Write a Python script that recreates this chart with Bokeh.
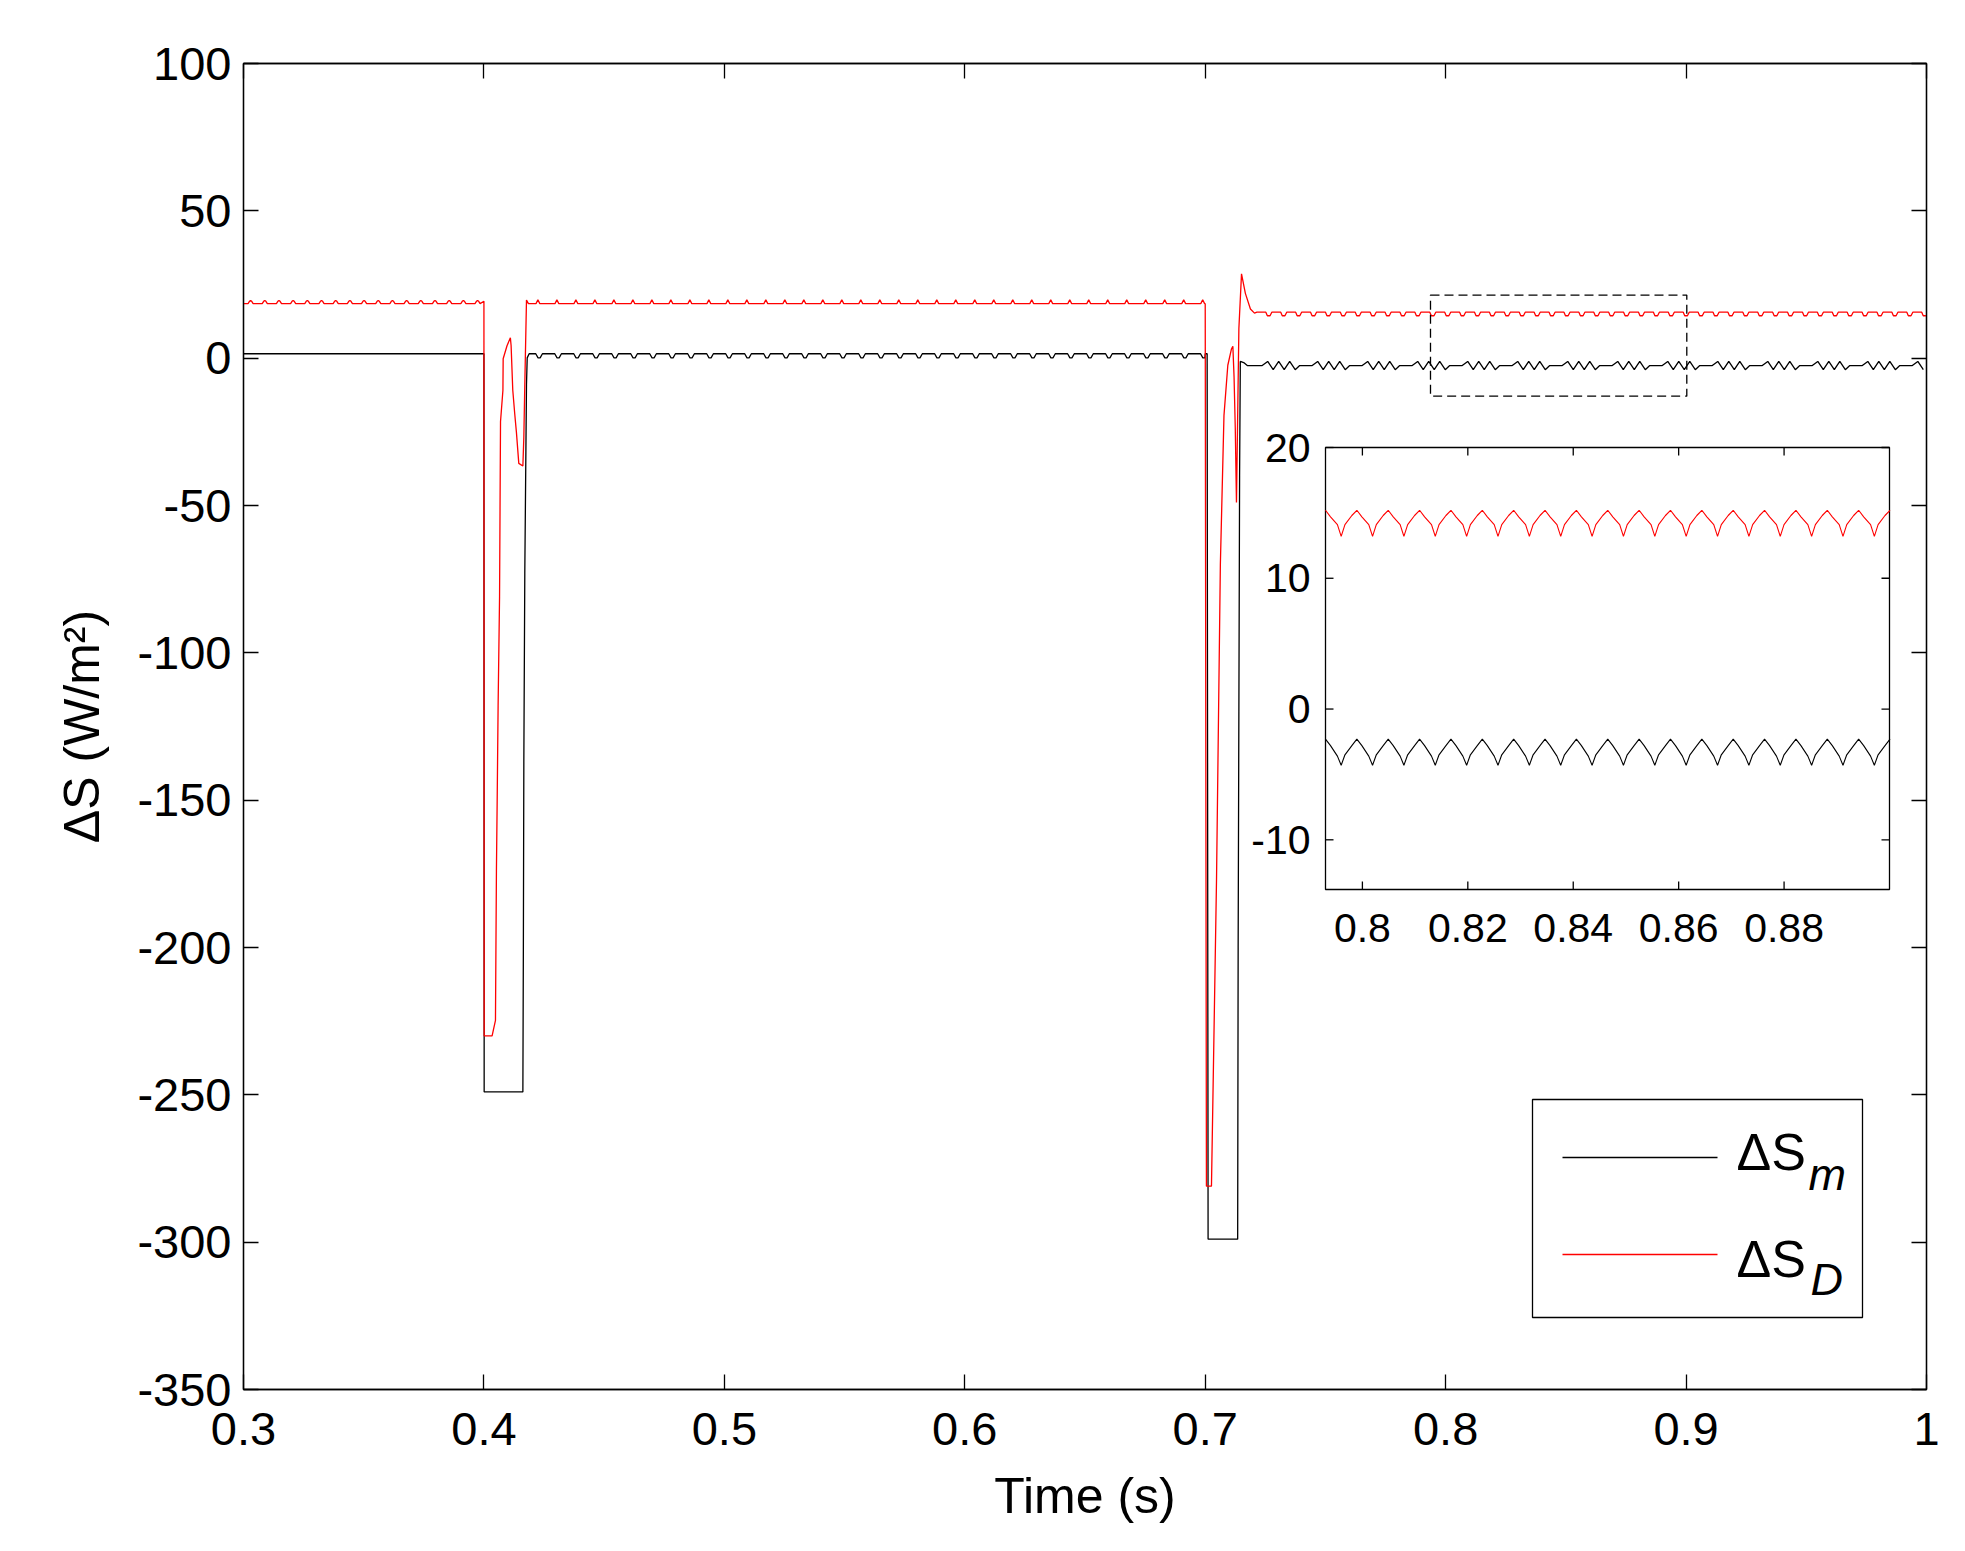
from bokeh.plotting import figure
from bokeh.models import (Range1d, LinearAxis, FixedTicker, CustomJSTickFormatter, Label)
from bokeh.core.properties import value
from bokeh.embed import file_html
from bokeh.resources import INLINE

# ---------------------------------------------------------------- data
x_ticks = [0.3, 0.4, 0.5, 0.6, 0.7, 0.8, 0.9, 1.0]
y_ticks = [100, 50, 0, -50, -100, -150, -200, -250, -300, -350]
x_limits = [0.3, 1.0]
y_limits = [-350, 100]

inset_x_ticks = [0.8, 0.82, 0.84, 0.86, 0.88]
inset_x_labels = ["0.8", "0.82", "0.84", "0.86", "0.88"]
inset_y_ticks = [20, 10, 0, -10]
inset_y_labels = ["20", "10", "0", "-10"]
inset_x_limits = [0.793, 0.9]
inset_y_limits = [-13.8, 20]

zoom_box_x = [0.7937, 0.9003]
zoom_box_y = [-12.9, 21.4]

# steady-state ripple as seen in the main view (one cycle each)
red_pre_period = 0.0059
red_pre_phase = [0.0, 0.32, 0.42, 0.50, 0.58, 0.68]
red_pre_vals = [18.5, 18.5, 19.3, 19.6, 19.3, 18.5]
black_pre_phase = [0.0]
black_pre_vals = [1.5]

mid_period = 0.0079
red_mid_phase = [0.0, 0.40, 0.50, 0.60]
red_mid_vals = [18.5, 18.5, 19.8, 18.5]
black_mid_phase = [0.0, 0.35, 0.47, 0.58, 0.70]
black_mid_vals = [1.5, 1.5, 0.1, 0.1, 1.5]

red_post_period = 0.0062
red_post_phase = [0.0, 0.60, 0.70, 0.88]
red_post_vals = [15.6, 15.6, 14.4, 14.4]
black_post_period = 0.0208
black_post_phase = [0.0, 0.25, 0.36, 0.47, 0.58, 0.69, 0.80, 0.91]
black_post_vals = [-2.5, -2.5, -1.1, -3.9, -1.1, -3.9, -1.1, -3.9]

# transients (sag events)
red_dip1_t = [0.4000, 0.4001, 0.4034, 0.4048, 0.4052, 0.4055, 0.4059, 0.4065, 0.4069,
              0.4079, 0.4080, 0.4096, 0.4110, 0.4113, 0.4120, 0.4128, 0.4135, 0.4145,
              0.4162, 0.4166, 0.4170, 0.4177]
red_dip1_v = [19.3, -230, -230, -224.7, -174, -151, -118, -81, -21.5,
              -10.9, -0.2, 4.2, 6.9, 4.3, -10.9, -18.8, -25, -35.7,
              -36.6, -26.8, -9, 19.7]
black_dip1_t = [0.4000, 0.4001, 0.4162, 0.4164, 0.4166, 0.4170, 0.4177, 0.4180]
black_dip1_v = [1.5, -249, -249, -200.7, -137, -73, -9, 0.1]

red_dip2_t = [0.7000, 0.7005, 0.7026, 0.7047, 0.7063, 0.7078, 0.7094, 0.7109, 0.7115,
              0.7120, 0.7125, 0.7130, 0.7135, 0.7140, 0.7151, 0.7167, 0.7188, 0.7205]
red_dip2_v = [18.5, -281, -281, -177, -70, -19.5, -2.4, 3.1, 4.0,
              -6.5, -23.7, -49, -19.5, 10, 28.6, 22, 16.7, 15.3]
black_dip2_t = [0.7000, 0.7008, 0.7012, 0.7135, 0.7137, 0.7140, 0.7143, 0.7146, 0.7160, 0.7175]
black_dip2_v = [1.5, 1.5, -299, -299, -200, -120, -40, -1.1, -1.5, -2.5]

seg_pre = [0.3, 0.4]
seg_mid_red = [0.4185, 0.7]
seg_mid_black = [0.4188, 0.7]
seg_post_red = [0.7215, 1.0]
seg_post_black = [0.7185, 1.0]

# inset (full-resolution steady-state ripple, one cycle each)
inset_period = 0.00595
inset_phase = [0.0, 0.16, 0.38, 0.50, 0.62, 0.84]
red_inset_cycle = [15.2, 14.7, 14.1, 13.2, 14.1, 14.8]
black_inset_cycle = [-2.3, -2.8, -3.6, -4.3, -3.5, -2.8]
inset_span = [0.793, 0.9008]

legend_labels = [("\u0394S", "m"), ("\u0394S", "D")]
legend_colors = ["black", "red"]


def tile(span, period, phase, vals):
    ts, vs = [], []
    k = 0
    while True:
        base = span[0] + k * period
        for f, v in zip(phase, vals):
            t = base + f * period
            if t > span[1]:
                return ts, vs
            ts.append(t)
            vs.append(v)
        k += 1


def build(parts):
    ts, vs = [], []
    for t, v in parts:
        ts += list(t)
        vs += list(v)
    return ts, vs


bp_t, bp_v = tile(seg_pre, 0.05, black_pre_phase, black_pre_vals)
bm_t, bm_v = tile(seg_mid_black, mid_period, black_mid_phase, black_mid_vals)
bq_t, bq_v = tile(seg_post_black, black_post_period, black_post_phase, black_post_vals)
black_t, black_v = build([(bp_t, bp_v), (black_dip1_t, black_dip1_v), (bm_t, bm_v),
                          (black_dip2_t, black_dip2_v), (bq_t, bq_v)])

rp_t, rp_v = tile(seg_pre, red_pre_period, red_pre_phase, red_pre_vals)
rm_t, rm_v = tile(seg_mid_red, mid_period, red_mid_phase, red_mid_vals)
rq_t, rq_v = tile(seg_post_red, red_post_period, red_post_phase, red_post_vals)
red_t, red_v = build([(rp_t, rp_v), (red_dip1_t, red_dip1_v), (rm_t, rm_v),
                      (red_dip2_t, red_dip2_v), (rq_t, rq_v)])

ir_t, ir_v = tile(inset_span, inset_period, inset_phase, red_inset_cycle)
ib_t, ib_v = tile(inset_span, inset_period, inset_phase, black_inset_cycle)

# ---------------------------------------------------------------- layout (page pixels)
MAIN_L, MAIN_R, MAIN_T, MAIN_B = 243, 1926, 63, 1389
INS_L, INS_R, INS_T, INS_B = 1325, 1889, 447, 889
W, H = 1955, 1543
OFF = 0  # observed page offset of the canvas
FONT = "Liberation Sans"


def dx(px):
    return x_limits[0] + (px - MAIN_L) / (MAIN_R - MAIN_L) * (x_limits[1] - x_limits[0])


def dy(py):
    return y_limits[1] - (py - MAIN_T) / (MAIN_B - MAIN_T) * (y_limits[1] - y_limits[0])


kx = (inset_x_limits[1] - inset_x_limits[0]) / (INS_R - INS_L)
ky = (inset_y_limits[1] - inset_y_limits[0]) / (INS_B - INS_T)
ix_range = Range1d(inset_x_limits[0] - (INS_L - MAIN_L) * kx,
                   inset_x_limits[1] + (MAIN_R - INS_R) * kx)
iy_range = Range1d(inset_y_limits[0] - (MAIN_B - INS_B) * ky,
                   inset_y_limits[1] + (INS_T - MAIN_T) * ky)

p = figure(width=W, height=H, x_range=Range1d(*x_limits), y_range=Range1d(*y_limits),
           output_backend="svg", toolbar_location=None,
           min_border_left=MAIN_L - OFF, min_border_right=W - (MAIN_R - OFF),
           min_border_top=MAIN_T - OFF, min_border_bottom=H - (MAIN_B - OFF),
           background_fill_color="white", border_fill_color="white")
p.extra_x_ranges = {"ix": ix_range}
p.extra_y_ranges = {"iy": iy_range}
p.xgrid.visible = False
p.ygrid.visible = False
p.outline_line_color = "black"
p.outline_line_width = 1.3

fmt = CustomJSTickFormatter(code="return String(Math.round(tick * 100) / 100);")
blank = CustomJSTickFormatter(code="return '';")


def style(ax, ticks, formatter, show):
    ax.ticker = FixedTicker(ticks=ticks)
    ax.formatter = formatter
    ax.major_tick_in = 15
    ax.major_tick_out = 0
    ax.minor_tick_line_color = None
    ax.axis_line_color = "black"
    ax.axis_line_width = 1.3
    ax.major_tick_line_color = "black"
    ax.major_tick_line_width = 1.3
    ax.major_label_text_font = FONT
    ax.major_label_text_font_size = "47px" if show else "1px"
    ax.major_label_text_color = "black"
    ax.axis_label_text_font = FONT
    ax.axis_label_text_font_size = "50px"
    ax.axis_label_text_font_style = "normal"
    ax.axis_label_text_color = "black"


style(p.xaxis[0], x_ticks, fmt, True)
style(p.yaxis[0], y_ticks, fmt, True)
p.xaxis[0].major_label_standoff = 23
p.yaxis[0].major_label_standoff = 12
p.xaxis[0].axis_label = "Time (s)"
p.xaxis[0].axis_label_standoff = 20
p.yaxis[0].axis_label = "\u0394S (W/m\u00b2)"
p.yaxis[0].axis_label_standoff = 24

ax_r = LinearAxis()
style(ax_r, y_ticks, blank, False)
ax_r.major_label_standoff = 0
p.add_layout(ax_r, "right")
ax_t = LinearAxis()
style(ax_t, x_ticks, blank, False)
ax_t.major_label_standoff = 0
p.add_layout(ax_t, "above")

# main traces
p.line(black_t, black_v, line_color="black", line_width=1.3)
p.line(red_t, red_v, line_color="red", line_width=1.3)

# dashed zoom box
p.quad(left=[zoom_box_x[0]], right=[zoom_box_x[1]], bottom=[zoom_box_y[0]], top=[zoom_box_y[1]],
       fill_color=None, line_color="black", line_width=1.3, line_dash="9 5")

# inset
IR = dict(x_range_name="ix", y_range_name="iy")
p.quad(left=[inset_x_limits[0]], right=[inset_x_limits[1]],
       bottom=[inset_y_limits[0]], top=[inset_y_limits[1]],
       fill_color="white", line_color="black", line_width=1.3, **IR)
p.line(ib_t, ib_v, line_color="black", line_width=1.1, **IR)
p.line(ir_t, ir_v, line_color="red", line_width=1.1, **IR)
tick_len = 8
n_x, n_y = len(inset_x_ticks), len(inset_y_ticks)
p.segment(x0=inset_x_ticks, x1=inset_x_ticks,
          y0=[inset_y_limits[0]] * n_x, y1=[inset_y_limits[0] + tick_len * ky] * n_x,
          line_color="black", line_width=1.3, **IR)
p.segment(x0=inset_x_ticks, x1=inset_x_ticks,
          y0=[inset_y_limits[1]] * n_x, y1=[inset_y_limits[1] - tick_len * ky] * n_x,
          line_color="black", line_width=1.3, **IR)
p.segment(x0=[inset_x_limits[0]] * n_y, x1=[inset_x_limits[0] + tick_len * kx] * n_y,
          y0=inset_y_ticks, y1=inset_y_ticks, line_color="black", line_width=1.3, **IR)
p.segment(x0=[inset_x_limits[1]] * n_y, x1=[inset_x_limits[1] - tick_len * kx] * n_y,
          y0=inset_y_ticks, y1=inset_y_ticks, line_color="black", line_width=1.3, **IR)
p.text(x=[inset_x_limits[0] - 15 * kx] * n_y, y=inset_y_ticks,
       text=inset_y_labels, text_font=value(FONT), text_font_size="41px",
       text_align="right", text_baseline="middle", text_color="black", **IR)
p.text(x=inset_x_ticks, y=[inset_y_limits[0] - 24 * ky] * n_x,
       text=inset_x_labels, text_font=value(FONT), text_font_size="41px",
       text_align="center", text_baseline="top", text_color="black", **IR)

# legend (drawn by hand to get the subscripts)
p.quad(left=[dx(1532)], right=[dx(1862)], top=[dy(1099)], bottom=[dy(1317)],
       fill_color="white", line_color="black", line_width=1.3)
p.segment(x0=[dx(1562), dx(1562)], x1=[dx(1717), dx(1717)],
          y0=[dy(1157), dy(1254)], y1=[dy(1157), dy(1254)],
          line_color=legend_colors, line_width=1.3)
for (main, sub), base_y, sub_y, sub_x in zip(legend_labels, [1151, 1258], [1174, 1279],
                                              [1808, 1810]):
    p.add_layout(Label(x=dx(1736), y=dy(base_y), text=main, text_font=FONT,
                       text_font_size="52px", text_align="left",
                       text_baseline="alphabetic", text_color="black"))
    p.add_layout(Label(x=dx(sub_x), y=dy(sub_y), text=sub, text_font=FONT,
                       text_font_size="45px", text_font_style="italic",
                       text_align="left", text_baseline="alphabetic",
                       text_color="black"))

open("out.html", "w").write(file_html(p, INLINE))
